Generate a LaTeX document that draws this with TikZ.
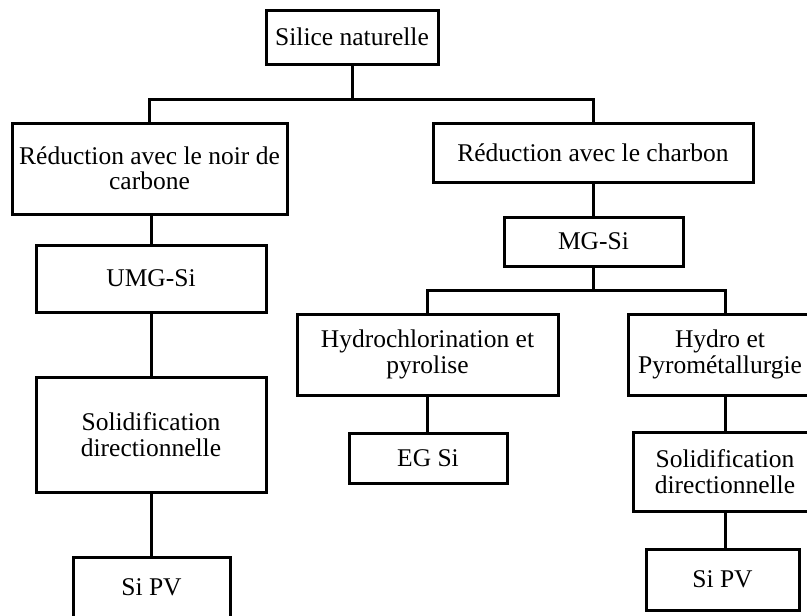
\documentclass[tikz,border=0pt]{standalone}
\usepackage{fontspec}
\setmainfont{Liberation Serif}
\begin{document}
\begin{tikzpicture}[x=1pt,y=-1pt,
  box/.style={draw, line width=3pt, align=center, inner sep=0pt, font=\fontsize{25.5}{25.5}\selectfont},
  conn/.style={line width=3pt}]
\useasboundingbox (0,0) rectangle (807,616);
\clip (0,0) rectangle (807,616);
% nodes
\node[box, minimum width=172pt, minimum height=54pt] (sil) at (352,37) {Silice naturelle};
\node[box, minimum width=275pt, minimum height=91pt] (r1) at (149.5,168.5) {Réduction avec le noir de\\carbone};
\node[box, minimum width=230pt, minimum height=67pt] (umg) at (151,278.5) {UMG-Si};
\node[box, minimum width=230pt, minimum height=115pt] (sol1) at (151,434.5) {Solidification\\directionnelle};
\node[box, minimum width=157pt, minimum height=61pt] (pv1) at (151.5,587.5) {Si PV};
\node[box, minimum width=320pt, minimum height=59pt] (r2) at (593,152.5) {Réduction avec le charbon};
\node[box, minimum width=179pt, minimum height=49pt] (mg) at (593.5,241.5) {MG-Si};
\node[box, minimum width=261pt, minimum height=81pt] (hyd) at (427.5,354.5) {Hydrochlorination et\\pyrolise};
\node[box, minimum width=158pt, minimum height=50pt] (eg) at (428,458) {EG Si};
\node[box, minimum width=184pt, minimum height=81pt] (hyd2) at (720,354.5) {Hydro et\\Pyrométallurgie};
\node[box, minimum width=184pt, minimum height=79pt] (sol2) at (725,471.5) {Solidification\\directionnelle};
\node[box, minimum width=153pt, minimum height=61pt] (pv2) at (722.5,579.5) {Si PV};
% junctions
\coordinate (j1) at (353,99);
\coordinate (j2) at (593,290);
% connectors
\draw[conn] (sil.south) -- (sil.south |- j1);
\draw[conn] (r1.north) |- (r2.north |- j1) -- (r2.north);
\draw[conn] (umg.north |- r1.south) -- (umg.north);
\draw[conn] (umg.south) -- (sol1.north);
\draw[conn] (sol1.south) -- (pv1.north -| sol1.south);
\draw[conn] (r2.south) -- (r2.south |- mg.north);
\draw[conn] (mg.south -| j2) -- (j2);
\draw[conn] (hyd.north) |- (sol2.north |- j2) -- (sol2.north |- hyd2.north);
\draw[conn] (hyd.south) -- (hyd.south |- eg.north);
\draw[conn] (sol2.north |- hyd2.south) -- (sol2.north);
\draw[conn] (sol2.south) -- (sol2.south |- pv2.north);
\end{tikzpicture}
\end{document}
